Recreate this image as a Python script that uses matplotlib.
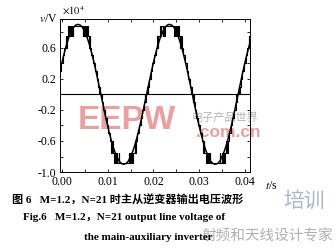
import numpy as np
import matplotlib
matplotlib.use('Agg')
import matplotlib.pyplot as plt

# rising quarter of one positive half cycle (ms from rising zero crossing): switch time, level (x1e4 V)
quarter_t = [0.0, 0.15, 0.25, 0.35, 0.55, 0.90, 1.25, 1.65, 2.05, 2.30, 2.45, 2.60,
             2.90, 3.10, 3.25, 3.50, 3.60, 3.90, 3.95]
quarter_v = [0.0, 0.1, 0.0, 0.1, 0.2, 0.3, 0.4, 0.5, 0.6, 0.75, 0.6, 0.75,
             0.88, 0.75, 0.88, 0.75, 0.88, 0.75, 0.88]
cycle_starts_ms = [-1.5, 18.5, 38.5]

# fundamental, one period sampled every 0.5 ms starting at t = 0
fund_period = [0.41, 0.53, 0.64, 0.73, 0.80, 0.86, 0.89, 0.90, 0.89, 0.86,
               0.80, 0.73, 0.64, 0.53, 0.41, 0.28, 0.14, 0.00, -0.14, -0.28]
fund_period = fund_period + [-v for v in fund_period]

xticks = [0.0, 0.005, 0.01, 0.015, 0.02, 0.025, 0.03, 0.035, 0.04]
xlabels = ['0.00', '', '0.01', '', '0.02', '', '0.03', '', '0.04']
yticks = [-1.0, -0.8, -0.6, -0.4, -0.2, 0.0, 0.2, 0.4, 0.6, 0.8]
ylabels = ['-1.0', '', '-0.6', '', '-0.2', '', '0.2', '', '0.6', '']


def build_steps():
    ends = quarter_t[1:] + [5.0]
    starts = list(quarter_t) + [10 - e for e in reversed(ends)]
    vals = list(quarter_v) + list(reversed(quarter_v))
    half_t = np.array(starts)
    half_v = np.array(vals)
    t_all, v_all = [], []
    for c in cycle_starts_ms:
        t_all += list(c + half_t) + list(c + 10 + half_t)
        v_all += list(half_v) + list(-half_v)
    t_all.append(cycle_starts_ms[-1] + 20)
    v_all.append(0.0)
    return np.array(t_all) / 1000, np.array(v_all)


def main():
    plt.rcParams['font.family'] = ['Liberation Serif', 'Noto Sans CJK SC']
    plt.rcParams['mathtext.fontset'] = 'stix'
    fig = plt.figure(figsize=(3.36, 2.49), dpi=100)
    ax = fig.add_axes([0.179, 0.309, 0.565, 0.615])
    ax.patch.set_alpha(0)

    st, sv = build_steps()
    ax.step(st, sv, where='post', color='black', lw=0.8)

    n = 83
    ft = np.arange(n) * 0.0005
    fv = np.tile(fund_period, 3)[:n]
    ax.plot(ft, fv, color='black', lw=1.1)
    ax.axhline(0, color='black', lw=0.8)

    ax.set_xlim(-0.0004, 0.0411)
    ax.set_ylim(-1.0, 0.97)
    ax.set_xticks(xticks)
    ax.set_xticklabels(xlabels)
    ax.set_yticks(yticks)
    ax.set_yticklabels(ylabels)
    ax.tick_params(direction='in', top=True, right=True, length=2, width=0.6,
                   labelsize=8.5, pad=3)
    for s in ax.spines.values():
        s.set_linewidth(0.7)

    fig.text(0.145, 0.925, '$v$/V', fontsize=8.5, ha='center', va='center')
    fig.text(0.185, 0.955, r'$\times 10^4$', fontsize=7.5, ha='left', va='center')
    fig.text(0.79, 0.255, '$t$/s', fontsize=8.5, ha='left', va='center')

    # watermark, behind the curves
    fig.text(0.378, 0.518, 'EEPW', fontsize=24, color='#eaa0a0',
             weight='bold', ha='center', va='center',
             family='Liberation Sans', zorder=-1)
    fig.text(0.67, 0.528, '电子产品世界', fontsize=8, color='#b4b4b4',
             ha='center', va='center', family='Noto Sans CJK SC', zorder=-1)
    fig.text(0.68, 0.466, '.com.cn', fontsize=12.5, color='#eaa0a0',
             weight='bold', ha='center', va='center', family='Liberation Sans',
             zorder=-1)
    fig.text(0.905, 0.195, '培训', fontsize=15, color='#a8b8d4',
             ha='center', va='center', family='Noto Sans CJK SC', zorder=-1)
    fig.text(0.795, 0.048, '射频和天线设计专家', fontsize=10.5, color='#b0b0b0',
             ha='center', va='center', family='Noto Sans CJK SC', zorder=-1)

    # caption
    fig.text(0.38, 0.195, '图 6   M=1.2，N=21 时主从逆变器输出电压波形', fontsize=8,
             weight='bold', ha='center', va='center')
    fig.text(0.37, 0.128, 'Fig.6   M=1.2，N=21 output line voltage of', fontsize=8,
             weight='bold', ha='center', va='center')
    fig.text(0.44, 0.048, 'the main-auxiliary inverter', fontsize=8,
             weight='bold', ha='center', va='center')

    fig.savefig('out.png', dpi=100)


if __name__ == '__main__':
    main()
